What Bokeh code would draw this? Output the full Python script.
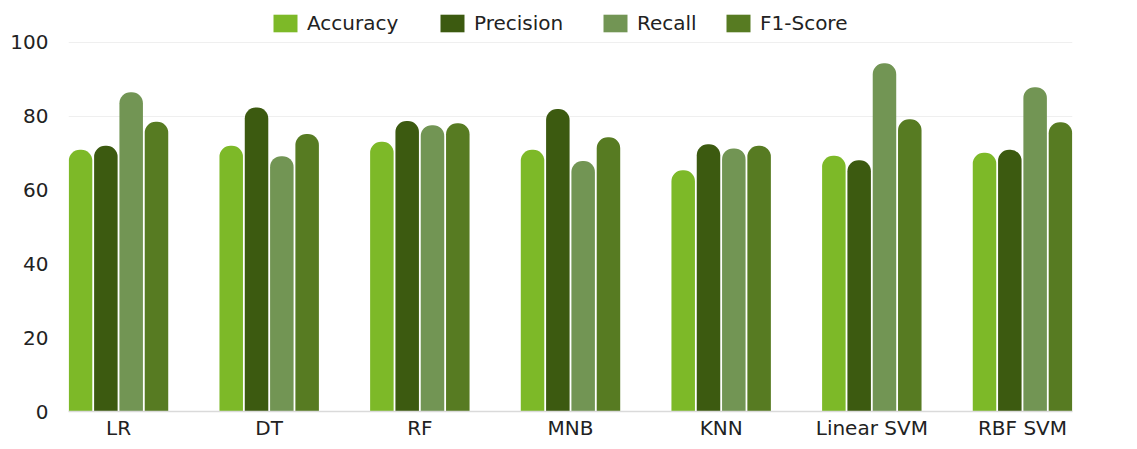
from bokeh.plotting import figure
from bokeh.models import ColumnDataSource, FactorRange, FixedTicker, Legend, LegendItem
from bokeh.transform import dodge
from bokeh.embed import file_html
from bokeh.resources import INLINE

# Classifier comparison: four metrics (in %) per model
models = ["LR", "DT", "RF", "MNB", "KNN", "Linear SVM", "RBF SVM"]
accuracy = [70.9, 72.0, 73.1, 70.9, 65.4, 69.3, 70.1]
precision = [72.0, 82.4, 78.7, 82.0, 72.4, 68.1, 70.9]
recall = [86.5, 69.2, 77.6, 67.9, 71.3, 94.4, 87.9]
f1_score = [78.5, 75.2, 78.1, 74.3, 72.0, 79.2, 78.4]
y_ticks = [0, 20, 40, 60, 80, 100]

metrics = [
    ("Accuracy", "accuracy", "#7db928"),
    ("Precision", "precision", "#3c5a10"),
    ("Recall", "recall", "#729554"),
    ("F1-Score", "f1", "#577b22"),
]

source = ColumnDataSource(data=dict(
    model=models, accuracy=accuracy, precision=precision, recall=recall, f1=f1_score,
))

FONT = "DejaVu Sans"
TEXT = "#222222"

# the frame reaches the top edge so the legend row can sit inside it;
# the y range is extended above 100 to leave room for that row
p = figure(
    x_range=FactorRange(factors=models, range_padding=-0.168, range_padding_units="absolute"),
    y_range=(0, 111.38),
    width=1137, height=449,
    min_border_left=68, min_border_right=65, min_border_top=0, min_border_bottom=38,
    output_backend="svg", toolbar_location=None,
    background_fill_color="white", border_fill_color="white",
)
p.outline_line_color = None

slot = 0.168
bar_w = 0.156
renderers = []
for i, (label, col, color) in enumerate(metrics):
    r = p.vbar(
        x=dodge("model", (i - 1.5) * slot, range=p.x_range), top=col, bottom=0,
        width=bar_w, source=source, fill_color=color, line_color=None,
        border_radius=(11, 11, 0, 0),
    )
    renderers.append((label, r))

# one legend box per metric, laid out in a row along the top
legend_x = [202, 369, 532, 655]
for (label, r), lx in zip(renderers, legend_x):
    lg = Legend(
        items=[LegendItem(label=label, renderers=[r])],
        location=(lx, 376), orientation="horizontal",
        padding=0, margin=0, spacing=0,
        glyph_width=30, glyph_height=22, label_standoff=7,
        label_text_font=FONT, label_text_font_size="20px", label_text_color=TEXT,
        border_line_color=None, background_fill_alpha=0,
    )
    p.add_layout(lg, "center")

p.yaxis.ticker = FixedTicker(ticks=y_ticks)
p.yaxis.axis_line_color = None
p.yaxis.major_tick_line_color = None
p.yaxis.major_tick_out = 0
p.yaxis.major_tick_in = 0
p.yaxis.minor_tick_line_color = None
p.yaxis.major_label_standoff = 20
p.yaxis.major_label_text_font = FONT
p.yaxis.major_label_text_font_size = "20px"
p.yaxis.major_label_text_color = TEXT

p.xaxis.axis_line_color = "#dadada"
p.xaxis.axis_line_width = 1.5
p.xaxis.major_tick_line_color = None
p.xaxis.major_tick_out = 0
p.xaxis.major_tick_in = 0
p.xaxis.minor_tick_line_color = None
p.xaxis.major_label_standoff = 4
p.xaxis.major_label_text_font = FONT
p.xaxis.major_label_text_font_size = "20px"
p.xaxis.major_label_text_color = TEXT

p.xgrid.grid_line_color = None
p.ygrid.ticker = FixedTicker(ticks=[80, 100])
p.ygrid.grid_line_color = "#efefef"
p.ygrid.level = "underlay"

open("out.html", "w").write(file_html(p, INLINE))
